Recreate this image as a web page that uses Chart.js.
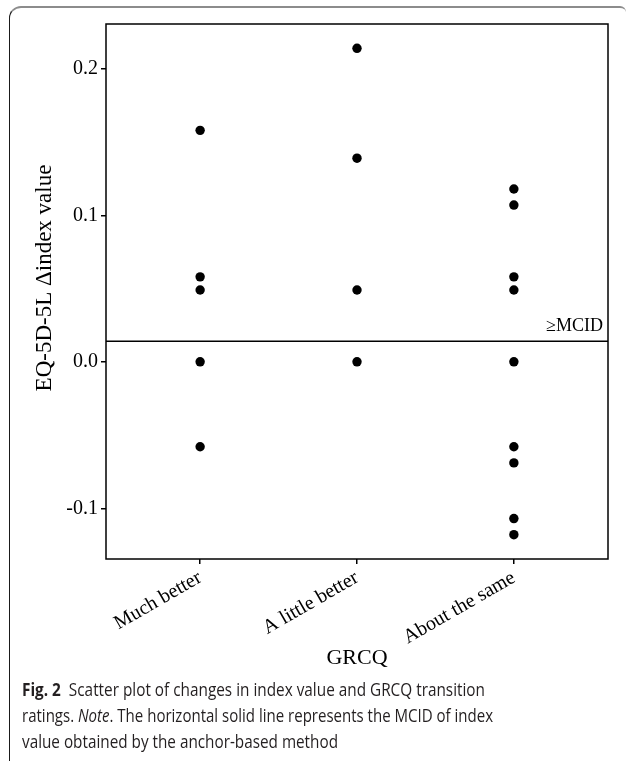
<!DOCTYPE html>
<html><head><meta charset="utf-8">
<script src="https://cdn.jsdelivr.net/npm/chart.js@4.4.0/dist/chart.umd.min.js"></script>
<style>
html,body{margin:0;padding:0;background:#fff;width:627px;height:761px;overflow:hidden;}
#frame{position:absolute;left:9px;top:6px;width:617px;height:800px;border-top:2px solid #8c8c8c;border-left:1.5px solid #1a1a1a;border-top-left-radius:12px;border-top-right-radius:6px;box-sizing:border-box;}
#wrap{position:absolute;left:0;top:0;width:627px;height:680px;}
#caption{position:absolute;left:22px;top:676px;font-family:"Open Sans",sans-serif;font-size:18px;line-height:26px;color:#231f20;white-space:nowrap;}
#caption .ln{display:block;height:26px;}
#caption .ln span.in{display:inline-block;transform-origin:0 0;}
</style></head>
<body>
<div id="frame"></div>
<div id="wrap"><canvas id="c" width="627" height="680"></canvas></div>
<div id="caption">
<div class="ln"><span class="in"><b>Fig. 2</b>&nbsp; Scatter plot of changes in index value and GRCQ transition</span></div>
<div class="ln"><span class="in">ratings. <i>Note</i>. The horizontal solid line represents the MCID of index</span></div>
<div class="ln"><span class="in">value obtained by the anchor-based method</span></div>
</div>
<script>
const categories = ['Much better', 'A little better', 'About the same'];
const muchBetter = [0.158, 0.058, 0.049, 0.0, -0.058];
const littleBetter = [0.214, 0.139, 0.049, 0.0];
const aboutSame = [0.118, 0.107, 0.058, 0.049, 0.0, -0.058, -0.069, -0.107, -0.118];
const yTicks = [-0.1, 0.0, 0.1, 0.2];
const mcid = 0.014;
const mcidLabel = '\u2265MCID';
const xTitle = 'GRCQ';
const yTitle = 'EQ-5D-5L \u0394index value';
const yMin = -0.1346, yMax = 0.2306;
const xMin = -0.6, xMax = 2.6;

const series = [muchBetter, littleBetter, aboutSame];
const points = [];
series.forEach((vals, i) => vals.forEach(v => points.push({x: i, y: v})));

const SERIF = '"Liberation Serif", "Times New Roman", serif';

const extras = {
  id: 'extras',
  afterDatasetsDraw(chart) {
    const {ctx, chartArea: a, scales: {y}} = chart;
    ctx.save();
    const my = y.getPixelForValue(mcid);
    ctx.strokeStyle = '#000';
    ctx.lineWidth = 1.5;
    ctx.beginPath();
    ctx.moveTo(a.left, my);
    ctx.lineTo(a.right, my);
    ctx.stroke();
    ctx.fillStyle = '#000';
    ctx.font = '18px ' + SERIF;
    ctx.textAlign = 'right';
    ctx.textBaseline = 'alphabetic';
    ctx.fillText(mcidLabel, a.right - 5, my - 10.5);
    ctx.lineWidth = 1.5;
    ctx.strokeRect(a.left, a.top, a.right - a.left, a.bottom - a.top);
    ctx.translate(45, a.top + 254);
    ctx.rotate(-Math.PI / 2);
    ctx.font = '23px ' + SERIF;
    ctx.textAlign = 'center';
    ctx.textBaseline = 'middle';
    ctx.fillText(yTitle, 0, 0);
    ctx.restore();
  }
};

new Chart(document.getElementById('c'), {
  type: 'scatter',
  data: {
    datasets: [{
      data: points,
      pointRadius: 4.7,
      pointHoverRadius: 4.7,
      pointBackgroundColor: '#000',
      pointBorderColor: '#000',
      pointBorderWidth: 0
    }]
  },
  options: {
    responsive: false,
    animation: false,
    layout: {padding: {top: 24, right: 19, left: 0, bottom: 0}},
    plugins: {legend: {display: false}, tooltip: {enabled: false}},
    scales: {
      x: {
        type: 'linear',
        min: xMin, max: xMax,
        afterBuildTicks: ax => { ax.ticks = categories.map((_, i) => ({value: i})); },
        afterFit: ax => { ax.height = 121; },
        border: {display: false},
        grid: {display: true, drawOnChartArea: false, drawTicks: true, tickLength: 5, color: '#000', lineWidth: 1.5},
        ticks: {
          autoSkip: false, minRotation: 30, maxRotation: 30, padding: 2,
          color: '#000', font: {family: SERIF, size: 20},
          callback: v => categories[v]
        },
        title: {display: true, text: xTitle, color: '#000', font: {family: SERIF, size: 22}, padding: {top: 0, bottom: 9}}
      },
      y: {
        min: yMin, max: yMax,
        afterBuildTicks: ax => { ax.ticks = yTicks.map(v => ({value: v})); },
        afterFit: ax => { ax.width = 106; },
        border: {display: false},
        grid: {display: true, drawOnChartArea: false, drawTicks: true, tickLength: 5, color: '#000', lineWidth: 1.5},
        ticks: {padding: 3, color: '#000', font: {family: SERIF, size: 20}, callback: v => v.toFixed(1)}
      }
    }
  },
  plugins: [extras]
});

const lineWidths = [463, 471, 316];
document.fonts.ready.then(() => {
  document.querySelectorAll('#caption span.in').forEach((el, i) => {
    const w = el.getBoundingClientRect().width;
    el.style.transform = 'scaleX(' + (lineWidths[i] / w) + ')';
  });
});
</script>
</body></html>
